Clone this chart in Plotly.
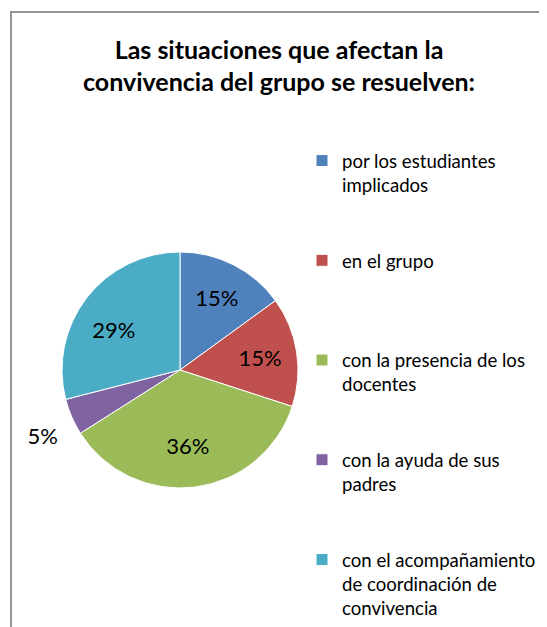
import plotly.graph_objects as go

W, H = 547, 627
OFF = 8  # page offset of the figure (body margin)

categories = [
    "por los estudiantes implicados",
    "en el grupo",
    "con la presencia de los docentes",
    "con la ayuda de sus padres",
    "con el acompañamiento de coordinación de convivencia",
]
values = [15, 15, 36, 5, 29]
legend_labels = [
    "por los estudiantes<br>implicados<br>\u00a0<br>\u00a0",
    "en el grupo<br>\u00a0<br>\u00a0<br>\u00a0",
    "con la presencia de los<br>docentes<br>\u00a0<br>\u00a0",
    "con la ayuda de sus<br>padres<br>\u00a0<br>\u00a0",
    "con el acompañamiento<br>de coordinación de<br>convivencia",
]
colors = ["#4F81BD", "#C0504D", "#9BBB59", "#8064A2", "#4BACC6"]
text_positions = ["inside", "inside", "inside", "outside", "inside"]
text_templates = [
    "%{percent:.0%}",
    "%{percent:.0%}",
    "\u00a0<br>%{percent:.0%}",
    "\u00a0<br>%{percent:.0%}",
    "%{percent:.0%}\u00a0\u00a0\u00a0\u00a0\u00a0",
]

FONT = "Lato"
GRAY = "#949494"

# frame (chart border) position in figure px
ML, MT = 12 - OFF, 13 - OFF
PW, PH = W - ML, H - MT  # plot-area size

cx, cy, R = 180 - OFF, 370 - OFF, 118

fig = go.Figure()

# empty cartesian trace only so that the frame lines (axis lines) are drawn
fig.add_trace(go.Scatter(x=[], y=[], showlegend=False, hoverinfo="skip"))

fig.add_trace(
    go.Pie(
        labels=legend_labels,
        values=values,
        customdata=categories,
        sort=False,
        direction="clockwise",
        rotation=0,
        marker=dict(colors=colors, line=dict(color="white", width=1)),
        texttemplate=text_templates,
        textposition=text_positions,
        insidetextorientation="horizontal",
        textfont=dict(family=FONT, size=22, color="black"),
        insidetextfont=dict(family=FONT, size=22, color="black"),
        outsidetextfont=dict(family=FONT, size=22, color="black"),
        hovertemplate="%{customdata}: %{percent}<extra></extra>",
        domain=dict(
            x=[(cx - R - ML) / PW, (cx + R - ML) / PW],
            y=[(H - (cy + R)) / PH, (H - (cy - R)) / PH],
        ),
    )
)

axis_common = dict(
    showline=True,
    linecolor=GRAY,
    linewidth=2,
    showgrid=False,
    zeroline=False,
    showticklabels=False,
    ticks="",
    range=[0, 1],
    fixedrange=True,
)

fig.update_layout(
    width=W,
    height=H,
    margin=dict(l=ML, r=0, t=MT, b=0, autoexpand=False),
    paper_bgcolor="white",
    plot_bgcolor="white",
    font=dict(family=FONT, color="black"),
    xaxis=dict(side="top", **axis_common),
    yaxis=dict(side="left", **axis_common),
    title=dict(
        text="<b>Las situaciones que afectan la</b><br><b>convivencia del grupo se resuelven:</b>",
        x=(279 - OFF) / W,
        xanchor="center",
        y=1 - 50.5 / H,
        yanchor="top",
        font=dict(family=FONT, size=25, color="black"),
    ),
    legend=dict(
        x=(294 - ML) / PW,
        xanchor="left",
        y=1 - (134 - MT) / PH,
        yanchor="top",
        valign="top",
        font=dict(family=FONT, size=18.6, color="black"),
        bgcolor="rgba(0,0,0,0)",
    ),
    showlegend=True,
)

fig.write_html("out.html")
